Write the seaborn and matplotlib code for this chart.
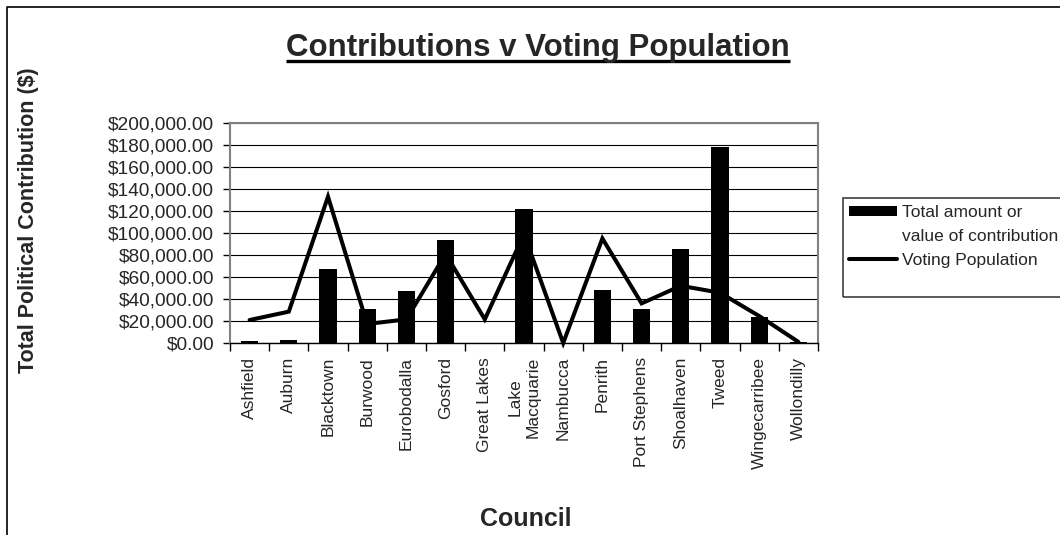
import numpy as np
import matplotlib
matplotlib.use("Agg")
import matplotlib.pyplot as plt
from matplotlib.lines import Line2D
from matplotlib.patches import Rectangle
from matplotlib.ticker import FuncFormatter, MultipleLocator
import seaborn as sns

councils = ["Ashfield", "Auburn", "Blacktown", "Burwood", "Eurobodalla",
            "Gosford", "Great Lakes", "Lake Macquarie", "Nambucca", "Penrith",
            "Port Stephens", "Shoalhaven", "Tweed", "Wingecarribee", "Wollondilly"]
tick_labels = ["Ashfield", "Auburn", "Blacktown", "Burwood", "Eurobodalla",
               "Gosford", "Great Lakes", "Lake\nMacquarie", "Nambucca", "Penrith",
               "Port Stephens", "Shoalhaven", "Tweed", "Wingecarribee", "Wollondilly"]
contributions = [1500, 3000, 67000, 31000, 47500, 94000, 0, 121500, 0,
                 48000, 30500, 85500, 178500, 23500, 1000]
voting_population = [20900, 28500, 133000, 17300, 21500, 81000, 21500, 99000, 0,
                     95000, 36000, 52000, 45700, 24500, 1000]

sns.set_style("white")
plt.rcParams["font.family"] = ["Liberation Sans", "DejaVu Sans"]

W, H = 1060, 535
fig = plt.figure(figsize=(W / 100, H / 100), dpi=100)
fig.patch.set_facecolor("white")


def fx(px):
    return px / W


def fy(py):
    return 1 - py / H


ax = fig.add_axes([fx(230), fy(343), fx(818) - fx(230), fy(123) - fy(343)])

sns.barplot(x=councils, y=contributions, color="black", saturation=1,
            width=0.44, linewidth=0, errorbar=None, ax=ax)
positions = np.arange(len(councils))
sns.lineplot(x=positions, y=voting_population, color="black", linewidth=2.9,
             ax=ax, sort=False)
vote_line = ax.get_lines()[-1]
vote_line.set_solid_joinstyle("miter")
vote_line.set_clip_on(False)

ax.set_xlim(-0.5, len(councils) - 0.5)
ax.set_ylim(0, 200000)
ax.yaxis.set_major_locator(MultipleLocator(20000))
ax.yaxis.set_major_formatter(FuncFormatter(lambda v, _: f"${v:,.2f}"))
ax.set_xticks(positions, tick_labels, rotation=90, va="top", ha="center")
ax.set_xticks(np.arange(-0.5, len(councils), 1.0), minor=True)
ax.tick_params(axis="x", which="major", length=0, pad=10, labelsize=12.5)
ax.tick_params(axis="x", which="minor", length=6, width=1, color="black",
               direction="out", bottom=True)
ax.tick_params(axis="y", length=5, width=1, color="black", direction="out",
               left=True, pad=6.5, labelsize=13.8)
ax.set_xlabel("")
ax.set_ylabel("")

ax.yaxis.grid(True, color="black", linewidth=0.8)
ax.set_axisbelow(True)
for side in ("top", "right", "left"):
    ax.spines[side].set_color("#808080")
    ax.spines[side].set_linewidth(1.5)
    ax.spines[side].set_visible(True)
ax.spines["bottom"].set_color("black")
ax.spines["bottom"].set_linewidth(1.0)
ax.spines["bottom"].set_visible(True)

# Chart area border (left and top edges)
fig.add_artist(Line2D([fx(7), fx(7), fx(1200)], [fy(600), fy(7), fy(7)],
                      color="black", linewidth=1.2, transform=fig.transFigure))

# Titles
title = fig.text(fx(538), fy(56), "Contributions v Voting Population",
                 ha="center", va="baseline", fontsize=22.5, fontweight="bold")
fig.text(fx(29), fy(220), "Total Political Contribution ($)", rotation=90,
         ha="center", va="center", fontsize=15.5, fontweight="bold")
fig.text(fx(526), fy(526), "Council", ha="center", va="baseline",
         fontsize=18, fontweight="bold")

# Legend
bar_handle = ax.patches[0]
blank = Line2D([], [], linestyle="none")
fig.legend(handles=[bar_handle, blank, vote_line],
           labels=["Total amount or", "value of contribution", "Voting Population"],
           loc="upper left", bbox_to_anchor=(fx(849), fy(205)),
           frameon=False, fontsize=12.5, handlelength=2.76, handleheight=0.55,
           handletextpad=0.3, labelspacing=0.52, borderpad=0, borderaxespad=0)
fig.add_artist(Rectangle((fx(843), fy(297)), fx(300), fy(198) - fy(297),
                         transform=fig.transFigure, fill=False,
                         edgecolor="#404040", linewidth=1.2))

# Underline the title
fig.canvas.draw()
bb = title.get_window_extent(fig.canvas.get_renderer())
fig.add_artist(Line2D([bb.x0 / W, bb.x1 / W], [fy(61), fy(61)], color="black",
                      linewidth=2.4, transform=fig.transFigure,
                      solid_capstyle="butt"))

fig.savefig("out.png", dpi=100)
